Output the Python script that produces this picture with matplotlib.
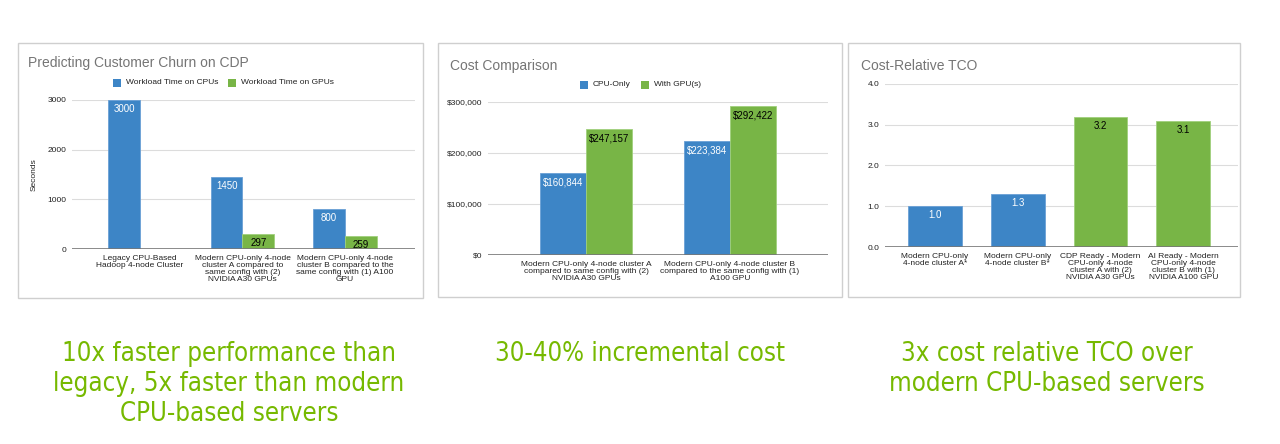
import numpy as np
import matplotlib
matplotlib.use("Agg")
import matplotlib.pyplot as plt
from matplotlib.patches import Rectangle

# ---- data -------------------------------------------------------------
churn_categories = [
    "Legacy CPU-Based\nHadoop 4-node Cluster",
    "Modern CPU-only 4-node\ncluster A compared to\nsame config with (2)\nNVIDIA A30 GPUs",
    "Modern CPU-only 4-node\ncluster B compared to the\nsame config with (1) A100\nGPU",
]
churn_cpu_seconds = [3000, 1450, 800]
churn_gpu_seconds = [np.nan, 297, 259]
churn_series = ["Workload Time on CPUs", "Workload Time on GPUs"]
churn_ticks = [0, 1000, 2000, 3000]

cost_categories = [
    "Modern CPU-only 4-node cluster A\ncompared to same config with (2)\nNVIDIA A30 GPUs",
    "Modern CPU-only 4-node cluster B\ncompared to the same config with (1)\nA100 GPU",
]
cost_cpu = [160844, 223384]
cost_gpu = [247157, 292422]
cost_series = ["CPU-Only", "With GPU(s)"]
cost_ticks = [0, 100000, 200000, 300000]

tco_categories = [
    "Modern CPU-only\n4-node cluster A*",
    "Modern CPU-only\n4-node cluster B*",
    "CDP Ready - Modern\nCPU-only 4-node\ncluster A with (2)\nNVIDIA A30 GPUs",
    "AI Ready - Modern\nCPU-only 4-node\ncluster B with (1)\nNVIDIA A100 GPU",
]
tco_values = [1.0, 1.3, 3.2, 3.1]
tco_is_gpu = [False, False, True, True]
tco_ticks = [0.0, 1.0, 2.0, 3.0, 4.0]

captions = [
    "10x faster performance than\nlegacy, 5x faster than modern\nCPU-based servers",
    "30-40% incremental cost",
    "3x cost relative TCO over\nmodern CPU-based servers",
]

# ---- style ------------------------------------------------------------
BLUE = "#3d85c6"
GREEN = "#78b546"
BLUE_EDGE = "#6aa0d6"
GREEN_EDGE = "#a0d07c"
CAPTION_GREEN = "#76b900"
GRID = "#dcdcdc"
TEXT = "#222222"
TITLE = "#757575"
SANS = ["Liberation Sans", "DejaVu Sans"]
plt.rcParams["font.family"] = SANS

W, H = 1280, 444
fig = plt.figure(figsize=(W / 100, H / 100), dpi=100)
fig.patch.set_facecolor("white")


def fig_axes(left, top, right, bottom):
    ax = fig.add_axes([left / W, 1 - bottom / H, (right - left) / W, (bottom - top) / H])
    ax.set_zorder(2)
    return ax


def frame(left, top, right, bottom):
    fig.patches.append(Rectangle((left / W, 1 - bottom / H), (right - left) / W,
                                 (bottom - top) / H, transform=fig.transFigure,
                                 facecolor="white", edgecolor="#cfcfcf", lw=1.0, zorder=-5))


def style_axes(ax, ticks, fmt):
    for s in ax.spines.values():
        s.set_visible(False)
    ax.set_yticks(ticks)
    ax.set_yticklabels([fmt(t) for t in ticks], fontsize=6, color=TEXT)
    ax.tick_params(axis="both", length=0, pad=4)
    ax.grid(axis="y", color=GRID, lw=0.8)
    ax.set_axisbelow(True)
    ax.axhline(0, color="#777777", lw=1.2, zorder=3)
    ax.set_facecolor("none")


def label_bars(ax, bars, values, color, fmt):
    for b, v in zip(bars, values):
        if np.isnan(v):
            continue
        ax.annotate(fmt(v), (b.get_x() + b.get_width() / 2, v), xytext=(0, -3),
                    textcoords="offset points", ha="center", va="top",
                    fontsize=7, color=color, zorder=5)


def title(x, y, text):
    fig.text(x / W, 1 - y / H, text, fontsize=10, color=TITLE, ha="left", va="center")


def legend(items, y):
    for x, color, text in items:
        fig.patches.append(Rectangle((x / W, 1 - (y + 4) / H), 8 / W, 8 / H,
                                     transform=fig.transFigure, facecolor=color,
                                     edgecolor="none", zorder=3))
        fig.text((x + 13) / W, 1 - y / H, text, fontsize=6, color=TEXT,
                 ha="left", va="center")


# ---- panel 1: churn workload time ------------------------------------
frame(18, 43, 423, 298)
title(28, 63, "Predicting Customer Churn on CDP")
legend([(113, BLUE, churn_series[0]), (228, GREEN, churn_series[1])], 83)
ax1 = fig_axes(72, 100, 415, 249)
x1 = np.arange(len(churn_categories))
w1 = 0.31
b1 = ax1.bar(x1 - w1 / 2, churn_cpu_seconds, w1, color=BLUE, edgecolor=BLUE_EDGE, lw=0.6, zorder=2)
b2 = ax1.bar(x1 + w1 / 2, churn_gpu_seconds, w1, color=GREEN, edgecolor=GREEN_EDGE, lw=0.6, zorder=2)
ax1.set_ylim(0, 3000)
ax1.set_xlim(-0.663, 2.683)
style_axes(ax1, churn_ticks, lambda t: f"{t:d}")
ax1.set_xticks(x1)
ax1.set_xticklabels(churn_categories, fontsize=6, color=TEXT, linespacing=1.0, va="top")
ax1.set_ylabel("Seconds", fontsize=6, color=TEXT, labelpad=7)
label_bars(ax1, b1, churn_cpu_seconds, "white", lambda v: f"{v:.0f}")
label_bars(ax1, b2, churn_gpu_seconds, "black", lambda v: f"{v:.0f}")

# ---- panel 2: cost comparison ----------------------------------------
frame(438, 43, 842, 297)
title(450, 66, "Cost Comparison")
legend([(580, BLUE, cost_series[0]), (641, GREEN, cost_series[1])], 85)
ax2 = fig_axes(488, 102, 828, 255)
x2 = np.arange(len(cost_categories))
w2 = 0.32
c1 = ax2.bar(x2 - w2 / 2, cost_cpu, w2, color=BLUE, edgecolor=BLUE_EDGE, lw=0.6, zorder=2)
c2 = ax2.bar(x2 + w2 / 2, cost_gpu, w2, color=GREEN, edgecolor=GREEN_EDGE, lw=0.6, zorder=2)
ax2.set_ylim(0, 300000)
ax2.set_xlim(-0.68, 1.68)
style_axes(ax2, cost_ticks, lambda t: f"${t:,.0f}")
ax2.set_xticks(x2)
ax2.set_xticklabels(cost_categories, fontsize=6, color=TEXT, linespacing=1.0, va="top")
label_bars(ax2, c1, cost_cpu, "white", lambda v: f"${v:,.0f}")
label_bars(ax2, c2, cost_gpu, "black", lambda v: f"${v:,.0f}")

# ---- panel 3: cost-relative TCO --------------------------------------
frame(848, 43, 1240, 297)
title(861, 66, "Cost-Relative TCO")
ax3 = fig_axes(885, 84, 1238, 247)
x3 = np.arange(len(tco_categories))
w3 = 0.65
colors3 = [GREEN if g else BLUE for g in tco_is_gpu]
edges3 = [GREEN_EDGE if g else BLUE_EDGE for g in tco_is_gpu]
t1 = ax3.bar(x3, tco_values, w3, color=colors3, edgecolor=edges3, lw=0.6, zorder=2)
ax3.set_ylim(0, 4.0)
ax3.set_xlim(-0.60, 3.66)
style_axes(ax3, tco_ticks, lambda t: f"{t:.1f}")
ax3.set_xticks(x3)
ax3.set_xticklabels(tco_categories, fontsize=6, color=TEXT, linespacing=1.0, va="top")
for b, v, g in zip(t1, tco_values, tco_is_gpu):
    ax3.annotate(f"{v:.1f}", (b.get_x() + b.get_width() / 2, v), xytext=(0, -3),
                 textcoords="offset points", ha="center", va="top", fontsize=7,
                 color="black" if g else "white", zorder=5)

# ---- captions --------------------------------------------------------
for cx, text in zip([229, 640, 1047], captions):
    fig.text(cx / W, 1 - 341 / H, text, ha="center", va="top", fontsize=18.5,
             color=CAPTION_GREEN, family=["DejaVu Sans"], stretch="condensed",
             linespacing=1.2)

fig.savefig("out.png", dpi=100, facecolor="white")
